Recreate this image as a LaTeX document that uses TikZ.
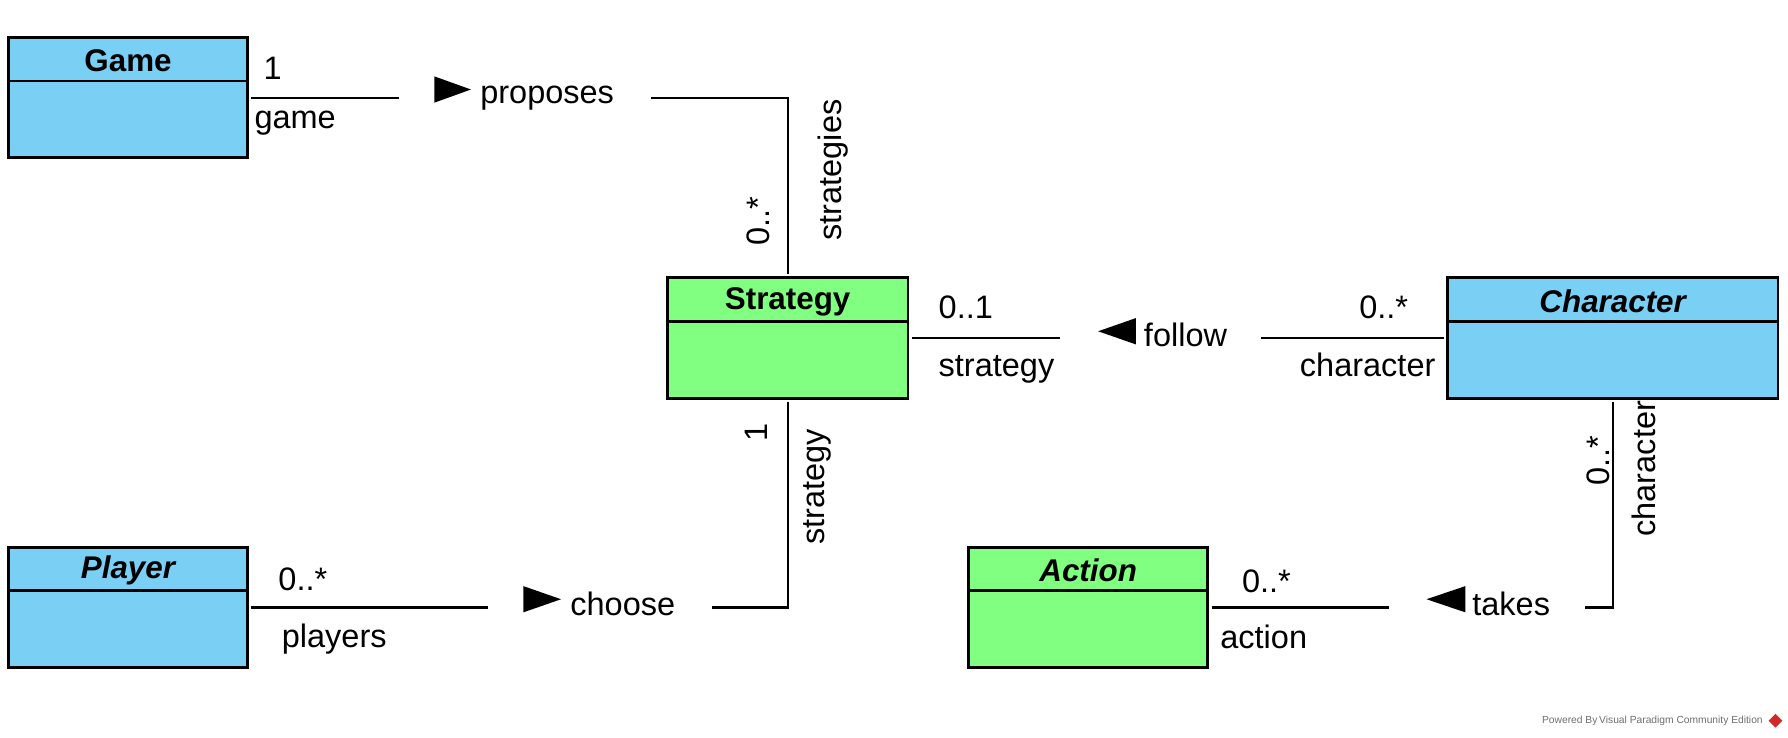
\documentclass[tikz,border=0pt]{standalone}
\usepackage{fontspec}
\setmainfont{Liberation Sans}
\definecolor{umlblue}{RGB}{122,207,245}
\definecolor{umlgreen}{RGB}{128,255,128}
\definecolor{wmgrey}{RGB}{110,110,110}
\definecolor{wmred}{RGB}{210,40,40}
\begin{document}
\begin{tikzpicture}[x=1pt,y=-1pt,
  classbox/.style={draw=black, line width=2.5pt, rectangle, inner sep=0pt, anchor=north west},
  bluebox/.style={classbox, fill=umlblue},
  greenbox/.style={classbox, fill=umlgreen},
  classname/.style={font=\fontsize{27.5}{30}\selectfont\bfseries, inner sep=0pt, anchor=center},
  assoc/.style={draw=black, line width=2pt, shorten >=2pt, shorten <=2pt},
  gapbox/.style={fill=white, inner sep=0pt, minimum height=36pt},
  lbl/.style={font=\fontsize{28.5}{31}\selectfont, inner sep=0pt},
  dirtri/.style={fill=black},
  wm/.style={font=\fontsize{9}{10}\selectfont, text=wmgrey, inner sep=0pt}
]
\useasboundingbox (0,0) rectangle (1568,647);

% ---- classes ----
\node[bluebox, minimum width=210pt, minimum height=105pt] (game) at (6,32) {};
\draw[line width=2.5pt] ([yshift=-39pt]game.north west) -- ([yshift=-39pt]game.north east);
\node[classname] (gameT) at ([yshift=-21.5pt]game.north) {Game};

\node[greenbox, minimum width=211pt, minimum height=106pt] (strat) at (584,242) {};
\draw[line width=2.5pt] ([yshift=-40pt]strat.north west) -- ([yshift=-40pt]strat.north east);
\node[classname] (stratT) at ([yshift=-22.5pt]strat.north) {Strategy};

\node[bluebox, minimum width=290pt, minimum height=106pt] (char) at (1268,242) {};
\draw[line width=2.5pt] ([yshift=-40pt]char.north west) -- ([yshift=-40pt]char.north east);
\node[classname] (charT) at ([yshift=-22.5pt]char.north) {\itshape Character};

\node[bluebox, minimum width=210pt, minimum height=105pt] (player) at (6,479) {};
\draw[line width=2.5pt] ([yshift=-39pt]player.north west) -- ([yshift=-39pt]player.north east);
\node[classname] (playerT) at ([yshift=-21.5pt]player.north) {\itshape Player};

\node[greenbox, minimum width=210pt, minimum height=105pt] (action) at (848,479) {};
\draw[line width=2.5pt] ([yshift=-39pt]action.north west) -- ([yshift=-39pt]action.north east);
\node[classname] (actionT) at ([yshift=-21.5pt]action.north) {\itshape Action};

% ---- Game -- Strategy : proposes ----
\draw[assoc] (game.east) -- (game.east -| strat.north) -- (strat.north);
\node[gapbox, minimum width=221pt] (g1) at (460.5,84) {};
\fill[dirtri] (381,67) -- (413,78.5) -- (381,90) -- cycle;
\node[lbl, anchor=base west] (g1t) at (421,91) {proposes};
\node[lbl, anchor=base west] (m1a) at (231,70) {1};
\node[lbl, anchor=base west] (r1a) at (223,113) {game};
\node[lbl, rotate=90] (m1b) at (665,194) {0..*};
\node[lbl, rotate=90] (r1b) at (731,149) {strategies};

% ---- Strategy -- Character : follow ----
\draw[assoc] (strat.east) -- (char.west);
\node[gapbox, minimum width=176pt] (g2) at (1018,295) {};
\fill[dirtri] (996,279) -- (963,290.5) -- (996,302) -- cycle;
\node[lbl, anchor=base west] (g2t) at (1003,304) {follow};
\node[lbl, anchor=base west] (m2a) at (823,279) {0..1};
\node[lbl, anchor=base west] (r2a) at (823,330) {strategy};
\node[lbl, anchor=base east] (m2b) at (1235,279) {0..*};
\node[lbl, anchor=base east] (r2b) at (1259,330) {character};

% ---- Strategy -- Player : choose ----
\draw[assoc] (strat.south) -- (strat.south |- player.east) -- (player.east);
\node[gapbox, minimum width=196pt] (g3) at (526,531) {};
\fill[dirtri] (459,514) -- (492,525.5) -- (459,537) -- cycle;
\node[lbl, anchor=base west] (g3t) at (500,540) {choose};
\node[lbl, rotate=90] (m3a) at (663,379) {1};
\node[lbl, rotate=90] (r3a) at (717,427) {strategy};
\node[lbl, anchor=base west] (m3b) at (244,518) {0..*};
\node[lbl, anchor=base west] (r3b) at (247,568) {players};

% ---- Character -- Action : takes ----
\draw[assoc] (char.south) -- (char.south |- action.east) -- (action.east);
\node[gapbox, minimum width=172pt] (g4) at (1304,531) {};
\fill[dirtri] (1285,514) -- (1251,525.5) -- (1285,537) -- cycle;
\node[lbl, anchor=base west] (g4t) at (1291,540) {takes};
\node[lbl, rotate=90] (m4a) at (1402,404) {0..*};
\node[lbl, rotate=90] (r4a) at (1442,411) {character};
\node[lbl, anchor=base west] (m4b) at (1089,520) {0..*};
\node[lbl, anchor=base west] (r4b) at (1070,569) {action};

% ---- watermark ----
\node[wm, anchor=east] (wmt) at (1546,632) {Powered By\,Visual Paradigm Community Edition};
\fill[wmred] (1557,626) -- (1563,632) -- (1557,638) -- (1551,632) -- cycle;
\end{tikzpicture}
\end{document}
